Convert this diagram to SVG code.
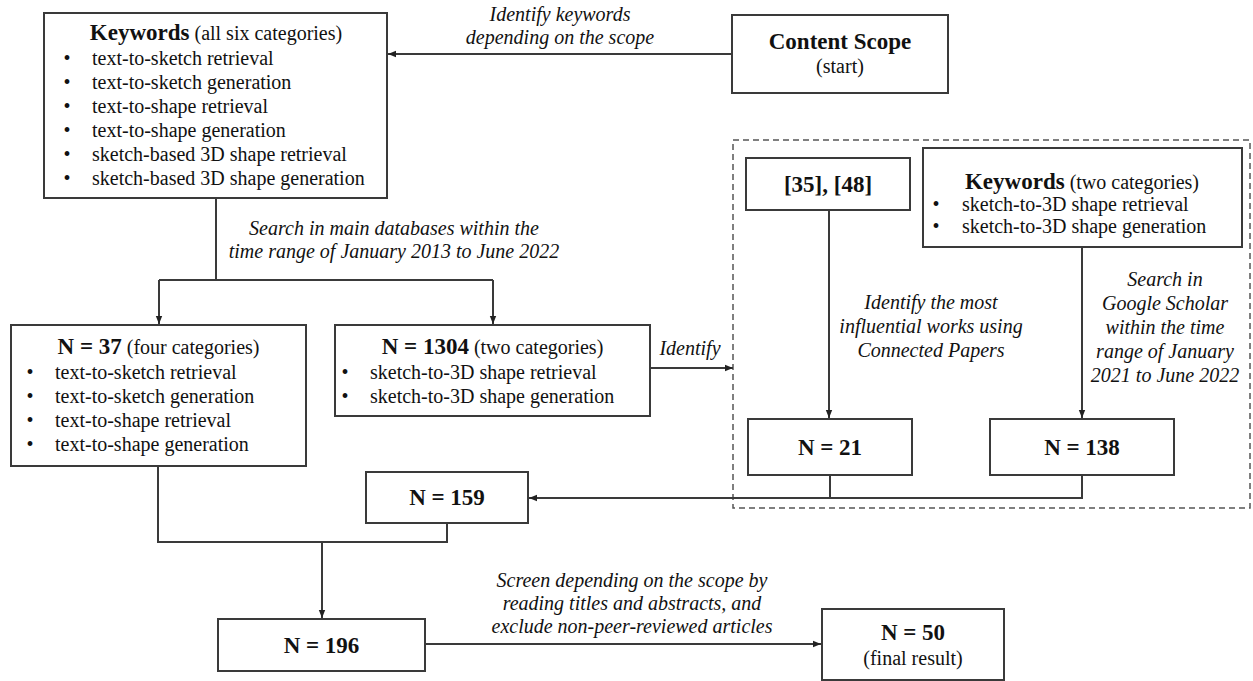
<svg xmlns="http://www.w3.org/2000/svg" width="1253" height="681" viewBox="0 0 1253 681">
<defs>
<marker id="ah" viewBox="0 0 10 10" refX="10" refY="5" markerWidth="9" markerHeight="8" markerUnits="userSpaceOnUse" orient="auto"><path d="M0,1 L10,5 L0,9 z" fill="#222"/></marker>
</defs>
<style>
.box{fill:#fff;stroke:#3a3a3a;stroke-width:2}
.t{font-family:"Liberation Serif","Times New Roman",serif;font-size:20px;fill:#111}
.b{font-weight:bold;font-size:23px}
.i{font-style:italic}
.c{text-anchor:middle}
.ln{fill:none;stroke:#3a3a3a;stroke-width:2}
.ar{fill:none;stroke:#3a3a3a;stroke-width:2;marker-end:url(#ah)}
.dash{fill:none;stroke:#555;stroke-width:1.5;stroke-dasharray:6 4}
</style>
<rect class="dash" x="733" y="140" width="517" height="368"/>
<g id="connectors">
<path class="ar" d="M732,54 H388"/>
<path class="ln" d="M216,198 V280 M159,280 H493"/>
<path class="ar" d="M159,280 V324"/>
<path class="ar" d="M493,280 V324"/>
<path class="ar" d="M650,368 H733"/>
<path class="ar" d="M829,210 V418"/>
<path class="ar" d="M1082,247 V418"/>
<path class="ln" d="M830,475 V498"/>
<path class="ar" d="M1082,475 V498 H529"/>
<path class="ln" d="M158,466 V542 H447 V523"/>
<path class="ar" d="M322,542 V618"/>
<path class="ar" d="M425,644 H821"/>
</g>
<g id="keywords-six">
<rect class="box" x="44" y="13" width="343" height="185"/>
<text class="t c" x="216" y="40"><tspan class="b">Keywords</tspan> (all six categories)</text>
<g class="t c"><text x="67" y="65">•</text><text x="67" y="89">•</text><text x="67" y="113">•</text><text x="67" y="137">•</text><text x="67" y="161">•</text><text x="67" y="185">•</text></g>
<text class="t" x="92" y="65">text-to-sketch retrieval</text>
<text class="t" x="92" y="89">text-to-sketch generation</text>
<text class="t" x="92" y="113">text-to-shape retrieval</text>
<text class="t" x="92" y="137">text-to-shape generation</text>
<text class="t" x="92" y="161">sketch-based 3D shape retrieval</text>
<text class="t" x="92" y="185">sketch-based 3D shape generation</text>
</g>
<g id="content-scope">
<rect class="box" x="732" y="15" width="216" height="78"/>
<text class="t c b" x="840" y="49">Content Scope</text>
<text class="t c" x="840" y="73">(start)</text>
</g>
<g id="label-identify-keywords">
<text class="t c i" x="560" y="21">Identify keywords</text>
<text class="t c i" x="560" y="44">depending on the scope</text>
</g>
<g id="label-search-main">
<text class="t c i" x="394" y="235">Search in main databases within the</text>
<text class="t c i" x="394" y="258">time range of January 2013 to June 2022</text>
</g>
<g id="n37">
<rect class="box" x="11" y="325" width="295" height="141"/>
<text class="t c" x="158.5" y="354"><tspan class="b">N = 37</tspan> (four categories)</text>
<g class="t c"><text x="30" y="379">•</text><text x="30" y="403">•</text><text x="30" y="427">•</text><text x="30" y="451">•</text></g>
<text class="t" x="55" y="379">text-to-sketch retrieval</text>
<text class="t" x="55" y="403">text-to-sketch generation</text>
<text class="t" x="55" y="427">text-to-shape retrieval</text>
<text class="t" x="55" y="451">text-to-shape generation</text>
</g>
<g id="n1304">
<rect class="box" x="335" y="325" width="315" height="91"/>
<text class="t c" x="492.5" y="354"><tspan class="b">N = 1304</tspan> (two categories)</text>
<g class="t c"><text x="345" y="379">•</text><text x="345" y="403">•</text></g>
<text class="t" x="370" y="379">sketch-to-3D shape retrieval</text>
<text class="t" x="370" y="403">sketch-to-3D shape generation</text>
</g>
<text id="label-identify" class="t c i" x="690" y="355">Identify</text>
<g id="refs">
<rect class="box" x="746" y="158" width="164" height="52"/>
<text class="t c b" x="828" y="192">[35], [48]</text>
</g>
<g id="keywords-two">
<rect class="box" x="923" y="148" width="319" height="99"/>
<text class="t c" x="1082" y="189"><tspan class="b">Keywords</tspan> (two categories)</text>
<g class="t c"><text x="936" y="211">•</text><text x="936" y="233">•</text></g>
<text class="t" x="962" y="211">sketch-to-3D shape retrieval</text>
<text class="t" x="962" y="233">sketch-to-3D shape generation</text>
</g>
<g id="label-connected-papers">
<text class="t c i" x="931" y="309">Identify the most</text>
<text class="t c i" x="931" y="333">influential works using</text>
<text class="t c i" x="931" y="357">Connected Papers</text>
</g>
<g id="label-google-scholar">
<text class="t c i" x="1165" y="286">Search in</text>
<text class="t c i" x="1165" y="310">Google Scholar</text>
<text class="t c i" x="1165" y="334">within the time</text>
<text class="t c i" x="1165" y="358">range of January</text>
<text class="t c i" x="1165" y="382">2021 to June 2022</text>
</g>
<g id="n21">
<rect class="box" x="748" y="419" width="164" height="56"/>
<text class="t c b" x="830" y="455">N = 21</text>
</g>
<g id="n138">
<rect class="box" x="990" y="419" width="184" height="56"/>
<text class="t c b" x="1082" y="455">N = 138</text>
</g>
<g id="n159">
<rect class="box" x="366" y="472" width="162" height="51"/>
<text class="t c b" x="447" y="505">N = 159</text>
</g>
<g id="n196">
<rect class="box" x="218" y="619" width="207" height="52"/>
<text class="t c b" x="321.5" y="653">N = 196</text>
</g>
<g id="label-screen">
<text class="t c i" x="632" y="587">Screen depending on the scope by</text>
<text class="t c i" x="632" y="610">reading titles and abstracts, and</text>
<text class="t c i" x="632" y="633">exclude non-peer-reviewed articles</text>
</g>
<g id="n50">
<rect class="box" x="822" y="609" width="182" height="71"/>
<text class="t c b" x="913" y="640">N = 50</text>
<text class="t c" x="913" y="665">(final result)</text>
</g>
</svg>
